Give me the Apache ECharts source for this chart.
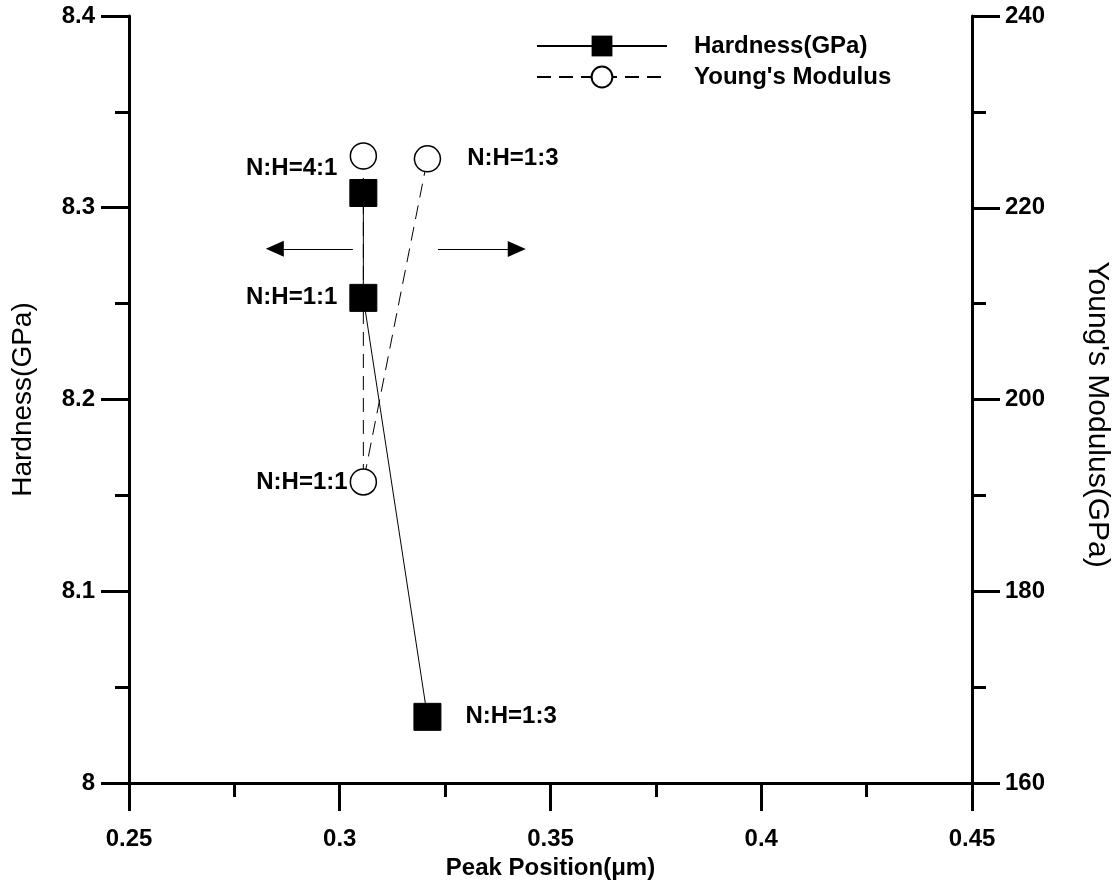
<!DOCTYPE html>
<html>
<head>
<meta charset="utf-8">
<script src="https://cdn.jsdelivr.net/npm/echarts@6/dist/echarts.min.js"></script>
<style>
html,body{margin:0;padding:0;background:#fff;}
#chart{width:1120px;height:885px;}
</style>
</head>
<body>
<div id="chart"></div>
<script>
// ---- data ----
const hardnessX = [0.3056, 0.3056, 0.3208];
const hardnessY = [8.3077, 8.253, 8.0345];
const hardnessLabels = ['N:H=4:1', 'N:H=1:1', 'N:H=1:3'];

const modulusX = [0.3056, 0.3056, 0.3208];
const modulusY = [225.4, 191.4, 225.1];
const modulusLabels = ['', 'N:H=1:1', 'N:H=1:3'];

const xTicks = [0.25, 0.45, 0.05];      // min, max, interval
const hardTicks = [8, 8.4, 0.1];
const modTicks = [160, 240, 20];

// arrow annotations (data coordinates)
const leftArrow = [[0.3031, 8.2786], [0.2846, 8.2786]];
const rightArrow = [[0.3233, 215.7], [0.3420, 215.7]];

const seriesNames = ['Hardness(GPa)', "Young's Modulus"];
const axisNames = ['Peak Position(\u03bcm)', 'Hardness(GPa)', "Young's Modulus(GPa)"];

// ---- styling helpers ----
const FONT = 'Liberation Sans, Arial, sans-serif';
const black = '#000';
const hardLabelStyle = [
  {position: 'left', distance: 12, offset: [0, -25]},
  {position: 'left', distance: 12},
  {position: 'right', distance: 24}
];
const modLabelStyle = [
  {show: false},
  {position: 'left', distance: 2},
  {position: 'right', distance: 26}
];

function axisCommon(margin) {
  return {
    axisLine: {show: true, lineStyle: {color: black, width: 3}},
    axisTick: {show: true, inside: false, length: 28, lineStyle: {color: black, width: 3}},
    minorTick: {show: true, splitNumber: 2, length: 14, lineStyle: {color: black, width: 3}},
    splitLine: {show: false},
    minorSplitLine: {show: false},
    axisLabel: {color: black, fontFamily: FONT, fontWeight: 'bold', fontSize: 24, margin: margin}
  };
}

const chart = echarts.init(document.getElementById('chart'), null, {renderer: 'canvas'});

const labelBase = {show: true, color: black, fontFamily: FONT, fontWeight: 'bold', fontSize: 24};

const option = {
  backgroundColor: '#fff',
  animation: false,
  grid: {left: 129, right: 148, top: 16, bottom: 101, containLabel: false},
  legend: {
    left: 531, top: 29,
    orient: 'vertical',
    itemWidth: 130, itemHeight: 26, itemGap: 7,
    textStyle: {color: black, fontFamily: FONT, fontWeight: 'bold', fontSize: 24, padding: [0, 0, 0, 22]},
    data: seriesNames
  },
  xAxis: Object.assign(axisCommon(44), {
    type: 'value', min: xTicks[0], max: xTicks[1], interval: xTicks[2],
    name: axisNames[0], nameLocation: 'middle', nameGap: 73,
    nameTextStyle: {color: black, fontFamily: FONT, fontWeight: 'bold', fontSize: 24}
  }),
  yAxis: [
    Object.assign(axisCommon(34), {
      type: 'value', position: 'left', min: hardTicks[0], max: hardTicks[1], interval: hardTicks[2],
      name: axisNames[1], nameLocation: 'middle', nameGap: 92,
      nameTextStyle: {color: black, fontFamily: FONT, fontSize: 28}
    }),
    Object.assign(axisCommon(33), {
      type: 'value', position: 'right', min: modTicks[0], max: modTicks[1], interval: modTicks[2],
      name: axisNames[2], nameLocation: 'middle', nameGap: 110, nameRotate: -90,
      nameTextStyle: {color: black, fontFamily: FONT, fontSize: 30, padding: [0, 0, 0, 30]}
    })
  ],
  series: [
    {
      name: seriesNames[0], type: 'line', yAxisIndex: 0,
      symbol: 'rect', symbolSize: 27,
      itemStyle: {color: black, borderColor: black},
      lineStyle: {color: black, width: 1},
      data: hardnessX.map((x, i) => ({
        value: [x, hardnessY[i]],
        label: Object.assign({}, labelBase, hardLabelStyle[i], {formatter: hardnessLabels[i]})
      })),
      markLine: {
        silent: true, symbol: ['none', 'triangle'], symbolSize: [16, 18],
        label: {show: false},
        lineStyle: {color: black, width: 1, type: 'solid'},
        data: [[{coord: leftArrow[0]}, {coord: leftArrow[1]}]]
      },
      z: 3
    },
    {
      name: seriesNames[1], type: 'line', yAxisIndex: 1,
      symbol: 'circle', symbolSize: 26,
      itemStyle: {color: '#fff', borderColor: black, borderWidth: 1.5},
      lineStyle: {color: black, width: 1, type: [14, 8]},
      data: modulusX.map((x, i) => ({
        value: [x, modulusY[i]],
        label: Object.assign({}, labelBase, modLabelStyle[i], {formatter: modulusLabels[i]})
      })),
      markLine: {
        silent: true, symbol: ['none', 'triangle'], symbolSize: [16, 18],
        label: {show: false},
        lineStyle: {color: black, width: 1, type: 'solid'},
        data: [[{coord: rightArrow[0]}, {coord: rightArrow[1]}]]
      },
      z: 2
    }
  ]
};
chart.setOption(option);
</script>
</body>
</html>
